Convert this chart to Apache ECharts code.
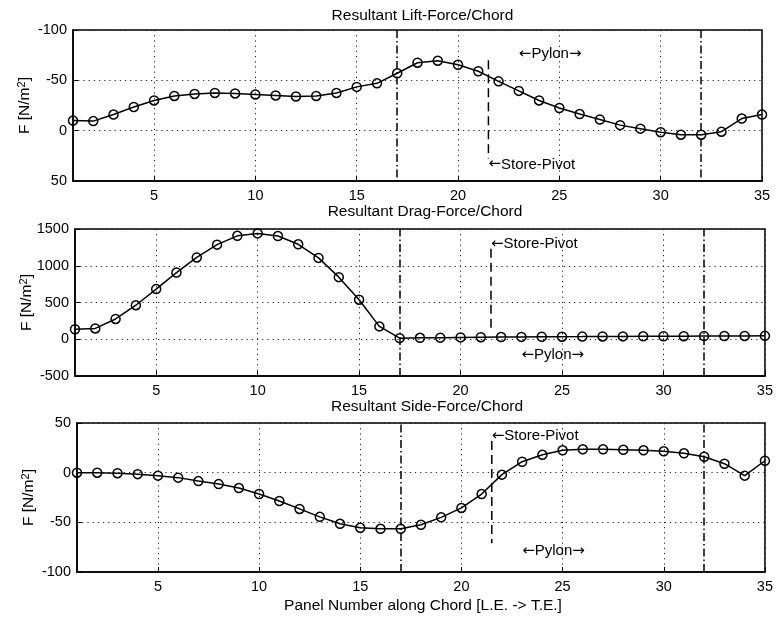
<!DOCTYPE html>
<html>
<head>
<meta charset="utf-8">
<script src="https://cdn.jsdelivr.net/npm/echarts@6/dist/echarts.min.js"></script>
<style>
html,body{margin:0;padding:0;background:#fff;}
#c{width:776px;height:618px;}
</style>
</head>
<body>
<div id="c"></div>
<script>
// ---- data ----
const panelNumbers = [1,2,3,4,5,6,7,8,9,10,11,12,13,14,15,16,17,18,19,20,21,22,23,24,25,26,27,28,29,30,31,32,33,34,35];
const liftForce = [-10,-9.5,-16,-23.5,-30,-34.5,-36.5,-37.5,-37,-36,-35,-34,-34.5,-37.5,-43.5,-47,-57,-67.5,-69.5,-65.5,-59,-49,-39.5,-30,-22.5,-16.5,-11,-5.5,-2,1.5,4,4,1,-12,-16];
const dragForce = [136,147,276,463,682,907,1113,1287,1407,1440,1404,1292,1107,845,538,175,15,20,22,25,28,30,32,34,35,36,38,39,40,41,42,43,44,45,46];
const sideForce = [0,0,-0.5,-1.5,-3,-5,-8.5,-11.5,-15.5,-21.5,-28.5,-36.5,-44.5,-51.5,-55.5,-56.5,-56.5,-52.5,-45,-35.5,-21.5,-2,11,18,22.5,23.5,23.5,23,22.5,21.5,19.5,16,9,-3,12];
const xTickValues = [5,10,15,20,25,30,35];
const titles = ['Resultant Lift-Force/Chord','Resultant Drag-Force/Chord','Resultant Side-Force/Chord'];
const xAxisTitle = 'Panel Number along Chord [L.E. -> T.E.]';
const yAxisTitle = 'F [N/m{s|2}]';
const yRanges = [[-100,50,50],[-500,1500,500],[-100,50,50]];
const pylonEdges = [17,32];
const storePivotX = 21.5;
const storePivotSpan = [[-70,28],[1230,150],[32,-71]];
const storePivotLabelY = [33.5,1300,37];
const pylonLabelX = 23;
const pylonLabelY = [-76,-218,-79];
const storePivotText = '{a|←}Store-Pivot';
const pylonText = '{a|←}Pylon{a|→}';
const seriesValues = [liftForce, dragForce, sideForce];

// ---- layout ----
const FONT = 'Liberation Sans, Arial, Helvetica, sans-serif';
const grids = [
  {left:73, top:30, width:689, height:151},
  {left:75, top:229, width:690, height:147},
  {left:77, top:423, width:690, height:149}
];
const titleTops = [3, 199, 394];

const chart = echarts.init(document.getElementById('c'), null, {renderer:'canvas'});

const option = {
  backgroundColor:'#fff',
  animation:false,
  textStyle:{fontFamily:FONT,color:'#000'},
  title: titles.map((t,i)=>({
    text:t,
    left: grids[i].left + grids[i].width/2,
    top: titleTops[i],
    textAlign:'center',
    textStyle:{fontFamily:FONT,fontSize:15.5,fontWeight:'normal',color:'#000'}
  })).concat([{
    text:xAxisTitle,
    left: grids[2].left + grids[2].width/2 - 4,
    top: 593,
    textAlign:'center',
    textStyle:{fontFamily:FONT,fontSize:15.5,fontWeight:'normal',color:'#000'}
  }]),
  grid: grids.map(g=>Object.assign({show:true,borderColor:'#000',borderWidth:1.5,backgroundColor:'transparent'},g)),
  xAxis: grids.map((g,i)=>({
    type:'value', gridIndex:i, min:1, max:35,
    axisLine:{show:true,onZero:false,lineStyle:{color:'#000',width:1.5}},
    axisTick:{show:true,inside:true,length:5,customValues:xTickValues,lineStyle:{color:'#000'}},
    axisLabel:{show:true,customValues:xTickValues,margin:7,fontSize:14.5,color:'#000',fontFamily:FONT},
    splitLine:{show:true,lineStyle:{color:'#222',width:1,type:[1.2,4]}}
  })),
  yAxis: grids.map((g,i)=>({
    type:'value', gridIndex:i,
    min:yRanges[i][0], max:yRanges[i][1], interval:yRanges[i][2],
    inverse: i===0,
    name: yAxisTitle, nameLocation:'middle', nameRotate:90, nameGap:39,
    nameMoveOverlap:false,
    nameTextStyle:{fontSize:15.5,color:'#000',fontFamily:FONT,lineHeight:18,
      rich:{s:{fontSize:11,fontFamily:FONT,color:'#000',verticalAlign:'top',lineHeight:11}}},
    axisLine:{show:true,onZero:false,lineStyle:{color:'#000',width:1.5}},
    axisTick:{show:true,inside:true,length:5,lineStyle:{color:'#000'}},
    axisLabel:{show:true,margin:6,fontSize:14.5,color:'#000',fontFamily:FONT,formatter:v=>String(v)},
    splitLine:{show:true,lineStyle:{color:'#222',width:1,type:[1.2,4]}}
  })),
  series: []
};

seriesValues.forEach((vals,i)=>{
  option.series.push({
    type:'line', xAxisIndex:i, yAxisIndex:i,
    data: panelNumbers.map((p,k)=>[p, vals[k]]),
    symbol:'circle', symbolSize:9,
    lineStyle:{color:'#000',width:1.5},
    itemStyle:{color:'rgba(0,0,0,0)',borderColor:'#000',borderWidth:1.5},
    z:5,
    markLine:{
      silent:true, symbol:'none',
      label:{show:false},
      lineStyle:{color:'#000',width:1.5,type:[8,3,1.5,3]},
      data: pylonEdges.map(x=>({xAxis:x}))
    }
  });
  option.series.push({
    type:'line', xAxisIndex:i, yAxisIndex:i,
    data: storePivotSpan[i].map(v=>[storePivotX, v]),
    symbol:'none',
    lineStyle:{color:'#000',width:1.5,type:[9,5]},
    z:4
  });
  option.series.push({
    type:'scatter', xAxisIndex:i, yAxisIndex:i,
    symbolSize:0,
    itemStyle:{opacity:1},
    data:[
      {value:[storePivotX, storePivotLabelY[i]], label:{formatter:storePivotText}},
      {value:[pylonLabelX, pylonLabelY[i]], label:{formatter:pylonText}}
    ],
    label:{show:true,position:'right',distance:0,fontSize:15,color:'#000',fontFamily:FONT,
      rich:{a:{fontFamily:'DejaVu Sans',fontSize:15,color:'#000'}}},
    z:6
  });
});

chart.setOption(option);
</script>
</body>
</html>
